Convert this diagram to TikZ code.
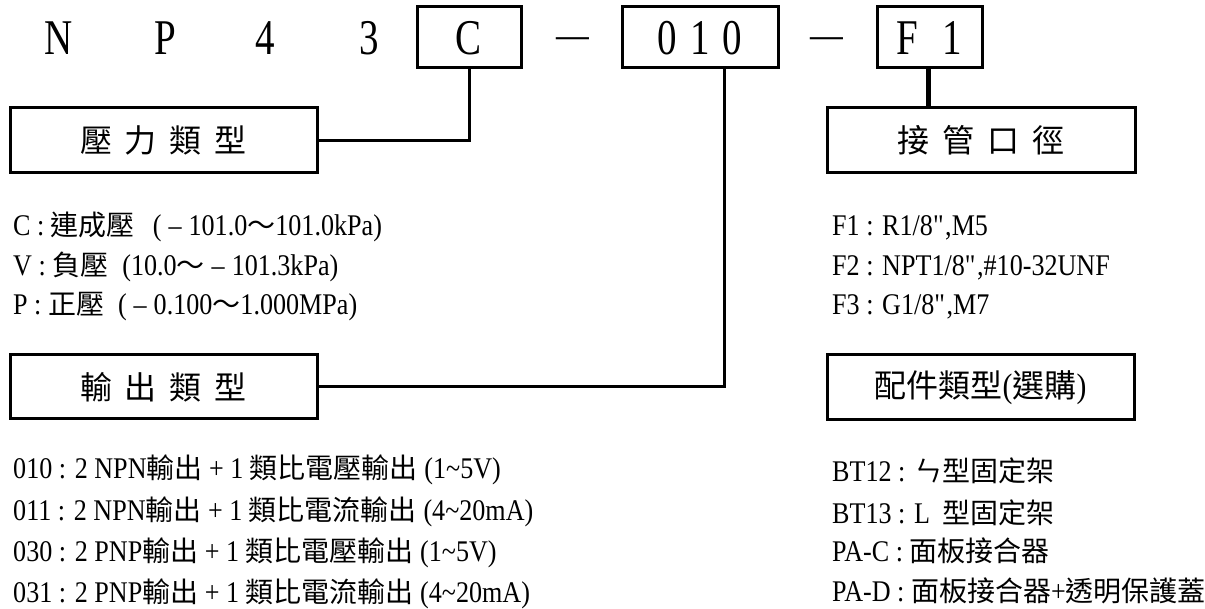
\documentclass[tikz,border=0pt]{standalone}
\usepackage{fontspec}
\setmainfont[FakeStretch=0.78]{Liberation Serif}
\newfontfamily\bodyrm[FakeStretch=0.87]{Liberation Serif}
\newfontfamily\cjk{Noto Sans CJK TC}
\newcommand\ZH[1]{{\fontsize{28}{28}\selectfont\cjk #1}}
\newcommand\qq{\textquotedbl}
\tikzset{
  frame/.style={draw, line width=3pt, inner sep=0pt},
  toptxt/.style={font=\fontsize{50}{50}\selectfont, inner sep=0pt},
  dashtxt/.style={anchor=base, inner sep=0pt, font=\fontsize{42}{42}\selectfont},
  topbox/.style={frame, toptxt, minimum height=61pt, text height=35pt, text depth=0pt},
  headbox/.style={frame, minimum width=307pt, minimum height=65pt, font=\fontsize{32}{32}\selectfont\cjk},
  item/.style={anchor=west, inner sep=0pt, text height=22pt, text depth=6pt, font=\fontsize{30}{30}\selectfont\bodyrm},
  wire/.style={line width=3pt},
}
\begin{document}
\begin{tikzpicture}[x=1pt,y=-1pt]
\useasboundingbox (0,0) rectangle (1205,609);
% top code row
\node[toptxt, anchor=base] (tN) at (59,55) {N};
\node[toptxt, anchor=base] (tP) at (165,55) {P};
\node[toptxt, anchor=base] (t4) at (265,55) {4};
\node[toptxt, anchor=base] (t3) at (369,55) {3};
\node[topbox, minimum width=104pt] (Cbox) at (469,37.5) {C};
\node[dashtxt] (d1) at (573,49) {—};
\node[topbox, minimum width=156pt] (b010) at (700,37.5) {0\hspace{13pt}1\hspace{13pt}0};
\node[dashtxt] (d2) at (827,49) {—};
\node[topbox, minimum width=105pt] (F1box) at (929.5,37.5) {F\hspace{24pt}1};
% heading boxes
\node[headbox] (press) at (163.5,140.5) {壓\hspace{13pt}力\hspace{13pt}類\hspace{13pt}型};
\node[headbox, minimum height=64pt] (outb) at (163.5,387) {輸\hspace{13pt}出\hspace{13pt}類\hspace{13pt}型};
\node[headbox, minimum width=308pt] (pipe) at (981,140.5) {接\hspace{13pt}管\hspace{13pt}口\hspace{13pt}徑};
\node[headbox] (acc) at (980.5,387.5) {配件類型{\bodyrm\fontsize{34}{34}\selectfont(}選購{\bodyrm\fontsize{34}{34}\selectfont)}};
% connectors
\draw[wire] (Cbox.south) |- (press.east);
\draw[wire] ([xshift=24pt]b010.south) |- (outb.east);
\draw[line width=5pt] ([xshift=-1.5pt]F1box.south) -- ([xshift=-1.5pt]F1box.south |- pipe.north);
% pressure list
\node[item] (c1) at (13,228) {C : \ZH{連成壓}\hspace{18pt}(\hspace{7pt}–\hspace{7pt}101.0\ZH{～}101.0kPa)};
\node[item] (c2) at (13,268) {V : \ZH{負壓}\hspace{14pt}(10.0\ZH{～}\hspace{7pt}–\hspace{7pt}101.3kPa)};
\node[item] (c3) at (13,307) {P : \ZH{正壓}\hspace{14pt}(\hspace{7pt}–\hspace{7pt}0.100\ZH{～}1.000MPa)};
% output list
\node[item] (o1) at (13,470) {010 : 2 NPN\ZH{輸出} + 1 \ZH{類比電壓輸出} (1\textasciitilde5V)};
\node[item] (o2) at (13,512) {011 : 2 NPN\ZH{輸出} + 1 \ZH{類比電流輸出} (4\textasciitilde20mA)};
\node[item] (o3) at (13,553) {030 : 2 PNP\ZH{輸出} + 1 \ZH{類比電壓輸出} (1\textasciitilde5V)};
\node[item] (o4) at (13,594) {031 : 2 PNP\ZH{輸出} + 1 \ZH{類比電流輸出} (4\textasciitilde20mA)};
% fitting list
\node[item] (f1) at (832,228) {F1 : R1/8\qq,M5};
\node[item] (f2) at (832,268) {F2 : NPT1/8\qq,\#10-32UNF};
\node[item] (f3) at (832,307) {F3 : G1/8\qq,M7};
% accessory list
\node[item] (a1) at (832,473) {BT12 : \ZH{ㄣ型固定架}};
\node[item] (a2) at (832,515) {BT13 : L\hspace{12pt}\ZH{型固定架}};
\node[item] (a3) at (832,553) {PA-C : \ZH{面板接合器}};
\node[item] (a4) at (832,593) {PA-D : \ZH{面板接合器}+\ZH{透明保護蓋}};
\end{tikzpicture}
\end{document}
